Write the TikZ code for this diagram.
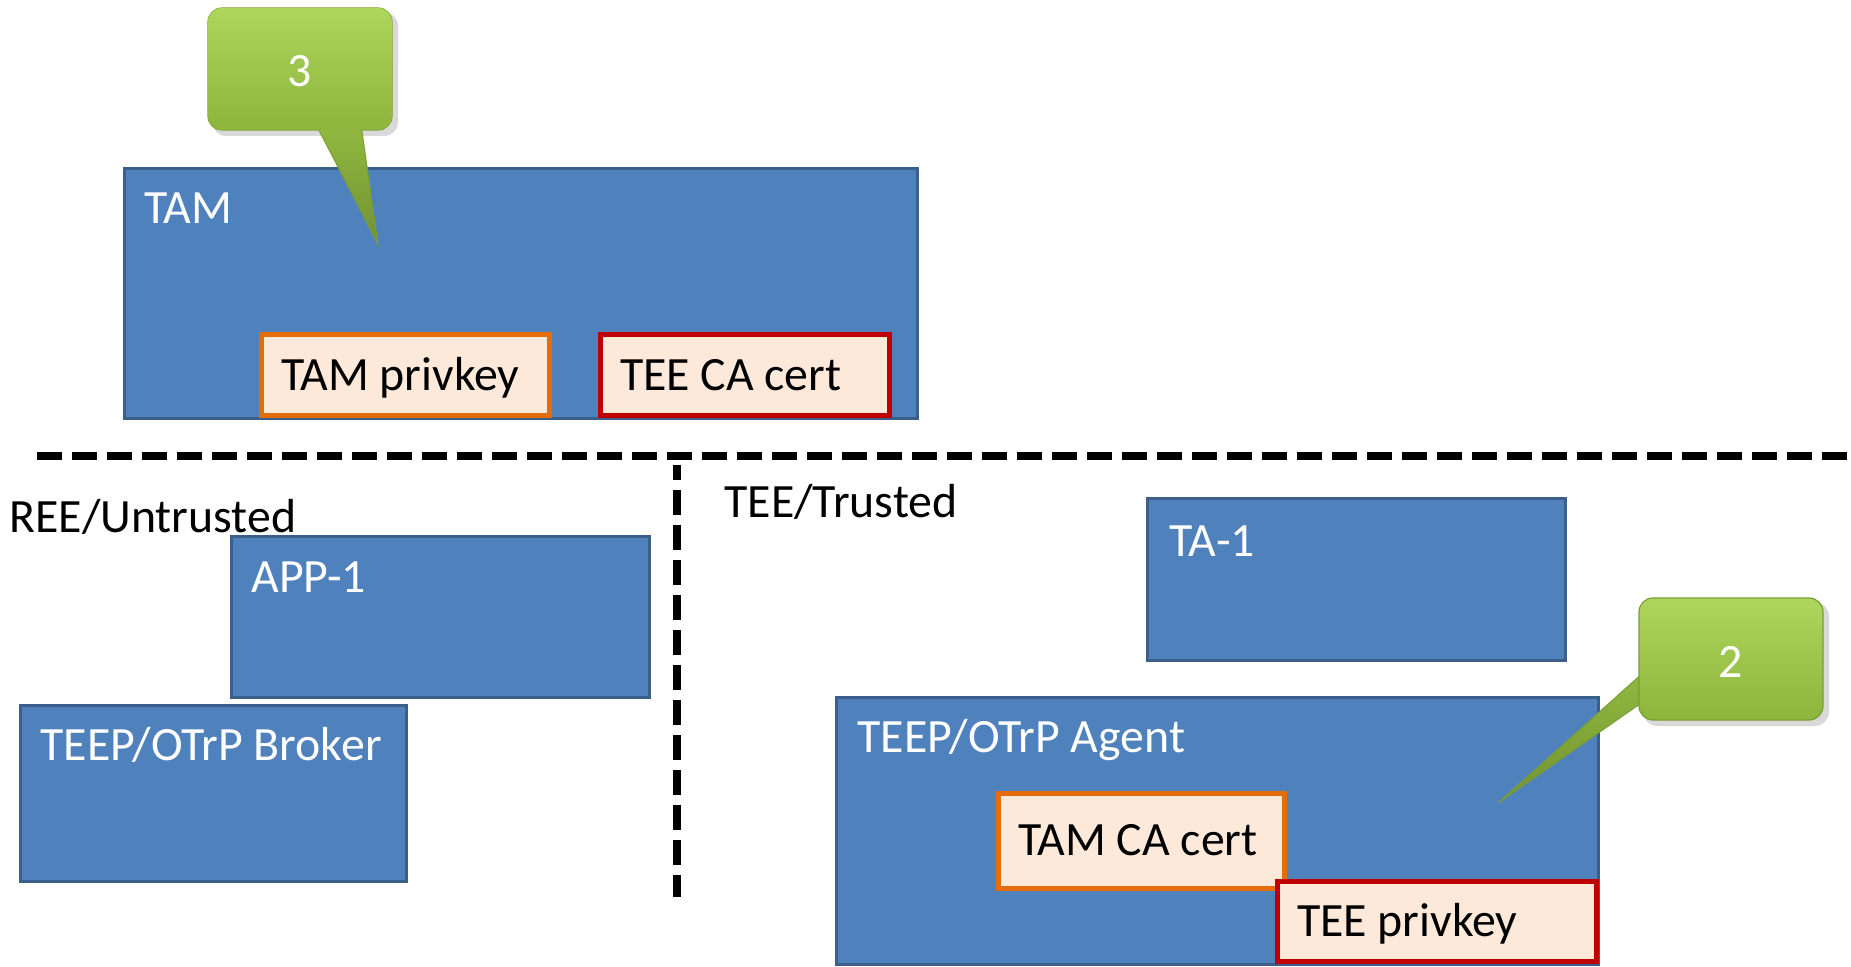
\documentclass[tikz,border=0pt]{standalone}
\usepackage{fontspec}
\setmainfont{Carlito}
\usetikzlibrary{calc}
\definecolor{boxblue}{HTML}{4F81BD}
\definecolor{boxedge}{HTML}{3A5F8B}
\definecolor{keyfill}{HTML}{FDE9D9}
\definecolor{keyorange}{HTML}{E46C0A}
\definecolor{keyred}{HTML}{C00000}
\definecolor{calltop}{HTML}{ADD65D}
\definecolor{callbot}{HTML}{8DB53C}
\definecolor{calledge}{HTML}{7A9E34}
\tikzset{
  txt/.style={font=\fontsize{23.9}{28}\selectfont},
  bluebox/.style={draw=boxedge, fill=boxblue, line width=1.5pt, anchor=north west,
    inner sep=0pt, outer sep=0pt},
  boxlabel/.style={txt, text=white, anchor=base west, inner sep=0pt},
  freelabel/.style={txt, text=black, anchor=base west, inner sep=0pt},
  keybox/.style={draw=#1, fill=keyfill, line width=2.5pt, anchor=north west,
    inner xsep=10pt, inner ysep=0pt, outer sep=0pt, txt, align=flush left,
    text height=15.4pt, text depth=0pt},
  callout/.style={rounded corners=7pt, top color=calltop, bottom color=callbot,
    draw=calledge, line width=0.6pt, minimum width=92pt, minimum height=61pt,
    inner sep=0pt, text=white, txt, text height=18pt, text depth=0pt},
  calltail/.style={top color=callbot!85!calltop, bottom color=callbot!80!black,
    draw=calledge, line width=0.5pt},
  callshadow/.style={fill=black, opacity=0.15, rounded corners=7pt},
  divider/.style={line width=4pt, dash pattern=on 12.5pt off 5pt}
}
\begin{document}
\begin{tikzpicture}[x=0.5pt,y=-0.5pt]
\useasboundingbox (0,0) rectangle (1851,967);

% ---- TAM (server side) ----
\node[bluebox, minimum width=396.5pt, minimum height=125pt] (tam) at (124,169) {};
\node[boxlabel] (tamlbl) at ($(tam.north west)+(20,55)$) {TAM};
\node[keybox=keyorange, minimum height=40.5pt, text width=124pt] (tampriv) at (261,335) {TAM privkey};
\node[keybox=keyred, minimum height=40.5pt, text width=124.5pt] (teeca) at (600,335) {TEE CA cert};

% ---- separators ----
\coordinate (hl) at (37,456);
\coordinate (hr) at (1851,456);
\coordinate (vt) at (677,465);
\coordinate (vb) at (677,897);
\draw[divider] (hl) -- (hr);
\draw[divider, dash phase=5pt] (vt) -- (vb);

% ---- REE side ----
\node[freelabel] (ree) at (9,532) {REE/Untrusted};
\node[bluebox, minimum width=209pt, minimum height=80.5pt] (app) at (231,536) {};
\node[boxlabel] (applbl) at ($(app.north west)+(20,56)$) {APP-1};
\node[bluebox, minimum width=193pt, minimum height=88pt] (broker) at (20,705) {};
\node[boxlabel] (brokerlbl) at ($(broker.north west)+(20,55)$) {TEEP/OTrP Broker};

% ---- TEE side ----
\node[freelabel] (tee) at (724,517) {TEE/Trusted};
\node[bluebox, minimum width=209pt, minimum height=80.5pt] (ta) at (1147,499) {};
\node[boxlabel] (talbl) at ($(ta.north west)+(22,57)$) {TA-1};
\node[bluebox, minimum width=381pt, minimum height=133.5pt] (agent) at (836,697) {};
\node[boxlabel] (agentlbl) at ($(agent.north west)+(21,55)$) {TEEP/OTrP Agent};
\node[keybox=keyorange, minimum height=47.5pt, text width=123pt] (tamca) at (998,793) {TAM CA cert};
\node[keybox=keyred, minimum height=40pt, text width=139.5pt] (teepriv) at (1277,881) {TEE privkey};

% ---- callout 3 ----
\coordinate (c3pos) at (300,69);
\coordinate (c3tip) at (378,244);
\fill[callshadow] ($(c3pos)+(-88,-57)$) rectangle ($(c3pos)+(98,67)$);
\node[callout] (c3) at (c3pos) {3};
\shade[calltail] ($(c3.south)+(16,-6)$) -- (c3tip) -- ($(c3.south)+(61,-6)$) -- cycle;
\node[callout, draw=none] at (c3pos) {3};

% ---- callout 2 ----
\coordinate (c2pos) at (1731,659);
\coordinate (c2tip) at (1498,803);
\fill[callshadow] ($(c2pos)+(-88,-57)$) rectangle ($(c2pos)+(98,67)$);
\shade[calltail] ($(c2pos)+(-86,12)$) -- (c2tip) -- ($(c2pos)+(-84,40)$) -- cycle;
\node[callout] (c2) at (c2pos) {2};
\end{tikzpicture}
\end{document}
